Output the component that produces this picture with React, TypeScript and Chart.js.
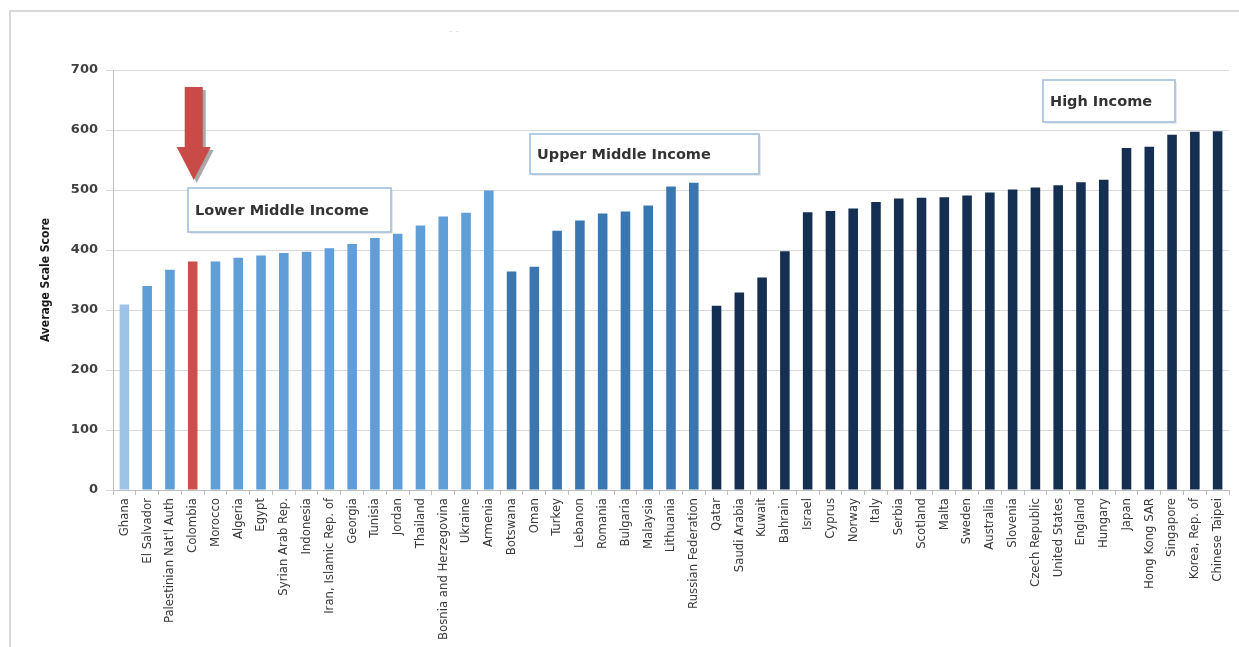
import React, { useEffect, useRef } from "react";
import { Chart, registerables } from "chart.js";

Chart.register(...registerables);

const lowerMiddleNames = [
  "Ghana", "El Salvador", "Palestinian Nat'l Auth", "Colombia", "Morocco", "Algeria", "Egypt",
  "Syrian Arab Rep.", "Indonesia", "Iran, Islamic Rep. of", "Georgia", "Tunisia", "Jordan",
  "Thailand", "Bosnia and Herzegovina", "Ukraine", "Armenia",
];
const lowerMiddleScores = [309, 340, 367, 381, 381, 387, 391, 395, 397, 403, 410, 420, 427, 441, 456, 462, 499];

const upperMiddleNames = [
  "Botswana", "Oman", "Turkey", "Lebanon", "Romania", "Bulgaria", "Malaysia", "Lithuania", "Russian Federation",
];
const upperMiddleScores = [364, 372, 432, 449, 461, 464, 474, 506, 512];

const highNames = [
  "Qatar", "Saudi Arabia", "Kuwait", "Bahrain", "Israel", "Cyprus", "Norway", "Italy", "Serbia",
  "Scotland", "Malta", "Sweden", "Australia", "Slovenia", "Czech Republic", "United States",
  "England", "Hungary", "Japan", "Hong Kong SAR", "Singapore", "Korea, Rep. of", "Chinese Taipei",
];
const highScores = [307, 329, 354, 398, 463, 465, 469, 480, 486, 487, 488, 491, 496, 501, 504, 508, 513, 517, 570, 572, 592, 597, 598];

const yTicks = [0, 100, 200, 300, 400, 500, 600, 700];
const highlightCountry = "Colombia";
const groupLabels = ["Lower Middle Income", "Upper Middle Income", "High Income"];

const COLORS = {
  first: "#9dc3e6",
  lower: "#5f9ed7",
  highlight: "#cd4f4b",
  upper: "#3a77b0",
  high: "#142f52",
};

const categories = [...lowerMiddleNames, ...upperMiddleNames, ...highNames];
const scores = [...lowerMiddleScores, ...upperMiddleScores, ...highScores];
const barColors = [
  ...lowerMiddleNames.map((n, i) => (n === highlightCountry ? COLORS.highlight : i === 0 ? COLORS.first : COLORS.lower)),
  ...upperMiddleNames.map(() => COLORS.upper),
  ...highNames.map(() => COLORS.high),
];

const overlayPlugin = {
  id: "overlay",
  afterDraw(chart: any) {
    const ctx = chart.ctx as CanvasRenderingContext2D;
    const xs = chart.scales.x;
    ctx.save();

    // outer frame (left and top edges)
    ctx.strokeStyle = "#d9d9d9";
    ctx.lineWidth = 2;
    ctx.beginPath();
    ctx.moveTo(10, 647);
    ctx.lineTo(10, 11);
    ctx.lineTo(1239, 11);
    ctx.stroke();

    // faint marks at top
    ctx.fillStyle = "#dddddd";
    ctx.font = "10px 'DejaVu Sans'";
    ctx.textAlign = "center";
    ctx.textBaseline = "middle";
    ctx.fillText("- -", 454, 31);

    // y axis title
    ctx.save();
    ctx.translate(46, 280);
    ctx.rotate(-Math.PI / 2);
    ctx.fillStyle = "#1a1a1a";
    ctx.font = "bold 12px 'Liberation Sans Narrow', 'DejaVu Sans Condensed', sans-serif";
    ctx.textAlign = "center";
    ctx.textBaseline = "middle";
    ctx.fillText("Average Scale Score", 0, 0);
    ctx.restore();

    // annotation boxes
    const boxes = [
      { text: groupLabels[0], x: 188, y: 188, w: 203, h: 44 },
      { text: groupLabels[1], x: 530, y: 134, w: 229, h: 40 },
      { text: groupLabels[2], x: 1043, y: 80, w: 132, h: 42 },
    ];
    boxes.forEach((b) => {
      ctx.fillStyle = "rgba(0,0,0,0.08)";
      ctx.fillRect(b.x + 2, b.y + 2, b.w, b.h);
      ctx.fillStyle = "#ffffff";
      ctx.fillRect(b.x, b.y, b.w, b.h);
      ctx.strokeStyle = "#9bbbe0";
      ctx.lineWidth = 1.5;
      ctx.strokeRect(b.x, b.y, b.w, b.h);
      ctx.fillStyle = "#333333";
      ctx.font = "bold 14.5px 'DejaVu Sans', sans-serif";
      ctx.textAlign = "left";
      ctx.textBaseline = "middle";
      ctx.fillText(b.text, b.x + 7, b.y + b.h / 2 + 1);
    });

    // arrow pointing to highlighted country
    const idx = categories.indexOf(highlightCountry);
    const cx = xs.getPixelForValue(idx) + 1;
    const drawArrow = (dx: number, dy: number, color: string) => {
      ctx.fillStyle = color;
      ctx.beginPath();
      ctx.moveTo(cx - 9 + dx, 87 + dy);
      ctx.lineTo(cx + 9 + dx, 87 + dy);
      ctx.lineTo(cx + 9 + dx, 147 + dy);
      ctx.lineTo(cx + 17 + dx, 147 + dy);
      ctx.lineTo(cx + dx, 180 + dy);
      ctx.lineTo(cx - 17 + dx, 147 + dy);
      ctx.lineTo(cx - 9 + dx, 147 + dy);
      ctx.closePath();
      ctx.fill();
    };
    drawArrow(3, 3, "#a8a8a8");
    drawArrow(0, 0, "#c84b48");

    ctx.restore();
  },
};

export default function App() {
  const canvasRef = useRef<HTMLCanvasElement | null>(null);

  useEffect(() => {
    if (!canvasRef.current) return;
    const chart = new Chart(canvasRef.current, {
      type: "bar",
      data: {
        labels: categories,
        datasets: [
          {
            data: scores,
            backgroundColor: barColors,
            borderWidth: 0,
            barPercentage: 0.42,
            categoryPercentage: 1,
          },
        ],
      },
      options: {
        animation: false,
        responsive: true,
        maintainAspectRatio: false,
        layout: { padding: { top: 70, right: 10, left: 0, bottom: 0 } },
        plugins: { legend: { display: false }, tooltip: { enabled: false } },
        scales: {
          x: {
            offset: true,
            grid: {
              display: true,
              drawOnChartArea: false,
              drawTicks: true,
              tickLength: 5,
              offset: true,
              color: "#bfbfbf",
            },
            border: { display: true, color: "#bfbfbf", width: 1 },
            ticks: {
              autoSkip: false,
              minRotation: 90,
              maxRotation: 90,
              padding: 3,
              color: "#3a3a3a",
              font: { family: "'Liberation Sans Narrow', 'DejaVu Sans Condensed', sans-serif", size: 13 },
            },
            afterFit: (scale: any) => {
              scale.height = 157;
            },
          },
          y: {
            min: 0,
            max: 700,
            afterBuildTicks: (scale: any) => {
              scale.ticks = yTicks.map((v) => ({ value: v }));
            },
            grid: {
              color: "#d9d9d9",
              tickLength: 7,
              lineWidth: 1,
            },
            border: { display: true, color: "#bfbfbf", width: 1 },
            ticks: {
              color: "#404040",
              padding: 8,
              font: { family: "'DejaVu Sans', sans-serif", size: 13, weight: "bold" },
            },
            afterFit: (scale: any) => {
              scale.width = 113;
            },
          },
        },
      },
      plugins: [overlayPlugin],
    });
    return () => chart.destroy();
  }, []);

  return (
    <div style={{ position: "absolute", left: 0, top: 0, width: 1239, height: 647, background: "#ffffff" }}>
      <canvas ref={canvasRef} />
    </div>
  );
}
